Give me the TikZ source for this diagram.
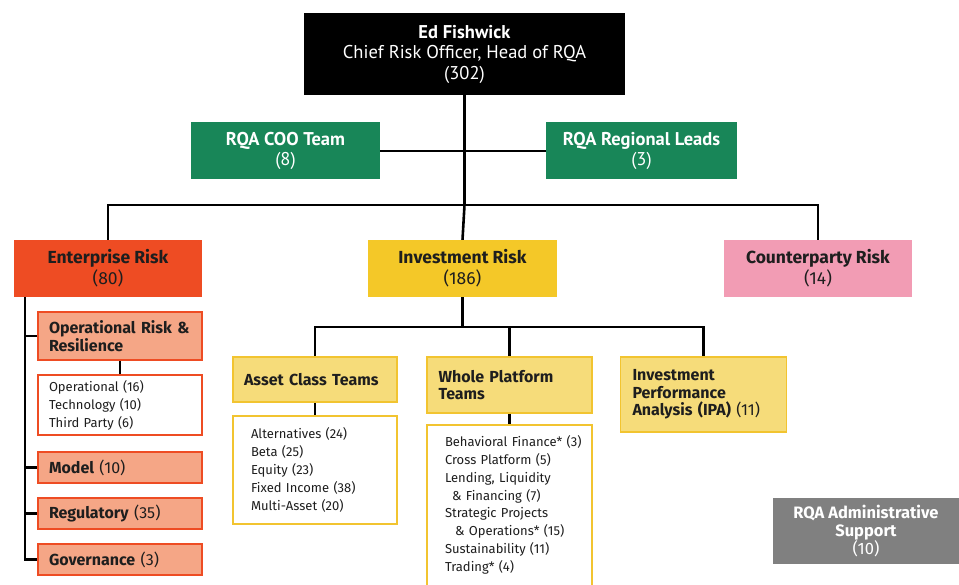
\documentclass[tikz,border=0pt]{standalone}
\usepackage{fontspec}
\setmainfont{Fira Sans}
\newfontfamily\condfont{PT Sans}
\definecolor{inkdark}{RGB}{30,30,30}
\definecolor{coogreen}{RGB}{24,134,88}
\definecolor{entred}{RGB}{238,76,35}
\definecolor{entsalmon}{RGB}{245,166,134}
\definecolor{invyellow}{RGB}{244,200,40}
\definecolor{invpale}{RGB}{246,220,122}
\definecolor{invgold}{RGB}{242,196,48}
\definecolor{cprpink}{RGB}{242,156,180}
\definecolor{admgray}{RGB}{128,128,128}
\begin{document}
\begin{tikzpicture}[x=1pt,y=-1pt,inner sep=0pt,
    link/.style={draw=black,line width=2.6pt},
    ceobox/.style={fill=black,text=white,align=center,
      font=\condfont\fontsize{18.5}{20.5}\selectfont},
    greenbox/.style={fill=coogreen,text=white,align=center,
      minimum height=57pt,font=\condfont\fontsize{18.5}{20}\selectfont},
    headbox/.style={text=inkdark,align=center,minimum width=188pt,
      minimum height=57pt,font=\fontsize{17.5}{21}\selectfont},
    entsub/.style={fill=entsalmon,draw=entred,line width=1.6pt,
      text=inkdark,minimum width=164pt,inner xsep=11pt,
      text width=142pt,align=left,font=\fontsize{16}{18}\selectfont},
    entlist/.style={fill=white,draw=entred,line width=1.6pt,
      text=inkdark,minimum width=164pt,inner xsep=11pt,
      text width=142pt,align=left,font=\fontsize{13}{18}\selectfont},
    invsub/.style={fill=invpale,draw=invgold,line width=1.6pt,
      text=inkdark,minimum width=164pt,inner xsep=11pt,
      text width=142pt,align=left,font=\fontsize{16}{17.5}\selectfont},
    invlist/.style={fill=white,draw=invgold,line width=1.6pt,
      text=inkdark,minimum width=164pt,inner xsep=18pt,
      text width=128pt,align=left,font=\fontsize{13}{17.8}\selectfont}]
  \path[use as bounding box] (0,0) rectangle (959,585);
  \node[ceobox,minimum width=321pt,minimum height=82pt] (ceo) at (464.5,54)
    {\textbf{Ed Fishwick}\\Chief Risk Officer, Head of RQA\\(302)};
  \node[greenbox,minimum width=189pt] (coo) at (285.5,151)
    {\textbf{RQA COO Team}\\(8)};
  \node[greenbox,minimum width=191pt] (lead) at (641.5,151)
    {\textbf{RQA Regional Leads}\\(3)};
  \coordinate (bus) at (464.5,205);
  \node[headbox,fill=entred] (ent) at (108,268.5)
    {\textbf{Enterprise Risk}\\(80)};
  \node[headbox,fill=invyellow,minimum width=189pt] (inv) at (462.5,268.5)
    {\textbf{Investment Risk}\\(186)};
  \node[headbox,fill=cprpink] (cpr) at (818,268.5)
    {\textbf{Counterparty Risk}\\(14)};
  \draw[link] (ceo.south) -- (bus);
  \draw[link] (coo.east) -- (lead.west);
  \draw[link] (ent.north) |- (bus) -| (cpr.north);
  \draw[link] (bus) -- (inv.north);
  \node[entsub,minimum height=48pt] (oprr) at (120,336)
    {\textbf{Operational Risk \&\\Resilience}};
  \node[entlist,minimum height=60pt] (oplist) at (120,405)
    {Operational (16)\\Technology (10)\\Third Party (6)};
  \node[entsub,minimum height=31pt] (model) at (120,467.5)
    {\textbf{Model} (10)};
  \node[entsub,minimum height=31pt] (reg) at (120,513.5)
    {\textbf{Regulatory} (35)};
  \node[entsub,minimum height=31pt] (gov) at (120,559.5)
    {\textbf{Governance} (3)};
  \coordinate (spine) at (25,297);
  \draw[link] (spine) |- (gov.west);
  \foreach \n in {oprr,model,reg} {\draw[link] (spine |- \n.west) -- (\n.west);}
  \draw[link] (oprr.south) -- (oplist.north);
  \coordinate (ibus) at (462.5,327);
  \node[invsub,minimum height=45pt] (act) at (315,379.5)
    {\textbf{Asset Class Teams}};
  \node[invlist,minimum height=108pt] (aclist) at (315,470)
    {Alternatives (24)\\Beta (25)\\Equity (23)\\Fixed Income (38)\\Multi-Asset (20)};
  \node[invsub,minimum width=165pt,minimum height=56pt] (wpt) at (509.5,385)
    {\textbf{Whole Platform\\Teams}};
  \node[invlist,minimum width=165pt,minimum height=175pt,anchor=north] (wplist) at (509.5,424) {};
  \node[invlist,draw=none,fill=none,text width=145pt,anchor=north west] (wptext)
    at (wplist.north west) [yshift=-11pt]
    {Behavioral Finance* (3)\\Cross Platform (5)\\Lending, Liquidity\\
    \hspace*{7pt}\& Financing (7)\\Strategic Projects\\
    \hspace*{10pt}\& Operations* (15)\\Sustainability (11)\\Trading* (4)};
  \node[invsub,minimum width=165pt,minimum height=75pt,inner xsep=12pt]
    (ipa) at (703.5,394.5)
    {\textbf{Investment\\Performance\\Analysis (IPA)} (11)};
  \draw[link] (inv.south) -- (ibus);
  \draw[link] (act.north) |- (ibus) -| (ipa.north);
  \draw[link] (wpt.north) -- (wpt.north |- ibus);
  \draw[link] (act.south) -- (aclist.north);
  \draw[link] (wpt.south) -- (wplist.north);
  \node[fill=admgray,text=white,align=center,minimum width=186pt,
    minimum height=66pt,font=\fontsize{16.5}{18}\selectfont] (adm) at (866,531)
    {\textbf{RQA Administrative}\\\textbf{Support}\\(10)};
\end{tikzpicture}
\end{document}
